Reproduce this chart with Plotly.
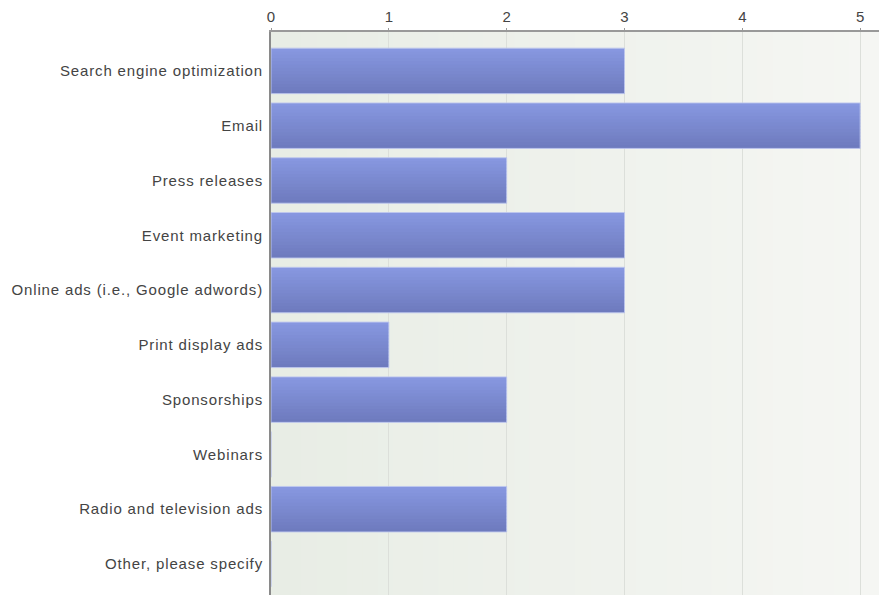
import plotly.graph_objects as go

categories = [
    "Search engine optimization",
    "Email",
    "Press releases",
    "Event marketing",
    "Online ads (i.e., Google adwords)",
    "Print display ads",
    "Sponsorships",
    "Webinars",
    "Radio and television ads",
    "Other, please specify",
]
values = [3, 5, 2, 3, 3, 1, 2, 0, 2, 0]
tick_vals = [0, 1, 2, 3, 4, 5]
tick_text = ["0", "1", "2", "3", "4", "5"]

def lerp(c1, c2, t):
    return "rgb(%d,%d,%d)" % tuple(round(a + (b - a) * t) for a, b in zip(c1, c2))

fig = go.Figure()

# bar with vertical gradient drawn as thin stacked slices
bar_w = 0.83
n_slices = 14
top_c = (135, 151, 224)
bot_c = (110, 123, 190)
ypos = list(range(len(categories)))
for i in range(n_slices):
    t = i / (n_slices - 1)
    col = lerp(top_c, bot_c, t)
    w = bar_w / n_slices + (0.025 if i < n_slices - 1 else 0)
    fig.add_trace(go.Bar(
        x=values, y=ypos, orientation="h",
        width=w,
        offset=-bar_w / 2 + i * bar_w / n_slices,
        marker=dict(color=col, line=dict(width=0)),
        showlegend=False, hoverinfo="skip",
    ))
# light outline
fig.add_trace(go.Bar(
    x=values, y=ypos, orientation="h", width=bar_w,
    marker=dict(color="rgba(0,0,0,0)", line=dict(width=1, color="rgba(190,198,238,0.9)")),
    showlegend=False, hoverinfo="skip",
))

# background gradient (left greener, right lighter)
n_bg = 40
c_left = (232, 237, 229)
c_right = (245, 246, 243)
shapes = []
for i in range(n_bg):
    t = i / (n_bg - 1)
    shapes.append(dict(
        type="rect", xref="x domain", yref="y domain",
        x0=i / n_bg, x1=(i + 1) / n_bg + 0.002, y0=0, y1=1,
        fillcolor=lerp(c_left, c_right, t), line=dict(width=0), layer="below",
    ))

fig.update_layout(
    width=879, height=595,
    margin=dict(l=271, r=0, t=32, b=0, autoexpand=False),
    paper_bgcolor="white",
    plot_bgcolor="rgba(0,0,0,0)",
    barmode="overlay",
    shapes=shapes,
    font=dict(family="Liberation Sans, Arial, sans-serif", size=15, color="#444444"),
    xaxis=dict(
        side="top", range=[0, 5.16], automargin=False,
        tickvals=tick_vals, ticktext=tick_text,
        showgrid=True, gridcolor="#dcdfda", gridwidth=1,
        showline=True, linecolor="#999999", linewidth=2,
        ticks="outside", ticklen=2, tickcolor="#999999",
        zeroline=False, layer="below traces",
        tickfont=dict(size=15, color="#444444"),
    ),
    yaxis=dict(
        range=[9.566, -0.71], automargin=False,
        tickvals=ypos, ticktext=categories,
        showline=True, linecolor="#8a8a8a", linewidth=2,
        showgrid=False, zeroline=False, ticks="", ticklen=0,
        ticklabelstandoff=3,
        tickfont=dict(size=15, color="#444444"),
    ),
)

post = (
    "document.body.style.margin='0';"
    "document.querySelectorAll('.ytick text').forEach(function(t){t.style.letterSpacing='0.85px';});"
)
fig.write_html("out.html", post_script=post, config={"displayModeBar": False})
